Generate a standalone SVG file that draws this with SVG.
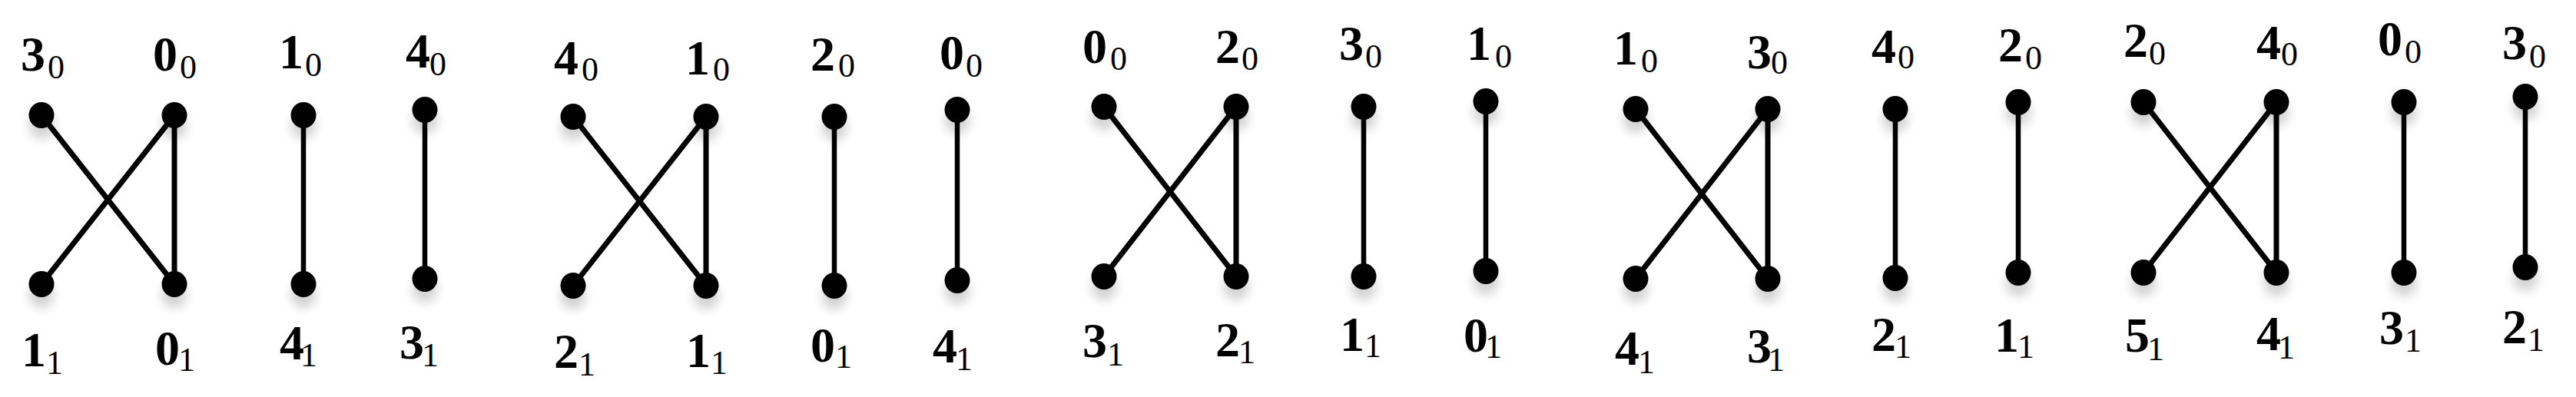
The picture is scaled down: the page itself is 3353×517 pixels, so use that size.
<svg xmlns="http://www.w3.org/2000/svg" width="3353" height="517" viewBox="0 0 3353 517">
<defs>
<filter id="sh" x="-150%" y="-100%" width="400%" height="400%">
<feGaussianBlur in="SourceAlpha" stdDeviation="7" result="b"/>
<feOffset in="b" dx="0" dy="14" result="o"/>
<feComponentTransfer in="o" result="f"><feFuncA type="linear" slope="0.18"/></feComponentTransfer>
<feMerge><feMergeNode in="f"/><feMergeNode in="SourceGraphic"/></feMerge>
</filter>
<style>
.dot{fill:#000;filter:url(#sh)}
.m{font-family:"Liberation Serif","Times New Roman",serif;font-weight:bold;font-size:64px;fill:#000}
.s{font-family:"Liberation Serif","Times New Roman",serif;font-weight:normal;font-size:44px;fill:#000}
.e{stroke:#000;stroke-width:7;stroke-linecap:round;fill:none}
.v{stroke-width:6.5}
</style>
</defs>
<rect width="3353" height="517" fill="#fff"/>
<g id="connectors">
<line class="e" x1="54" y1="150" x2="227" y2="370"/>
<line class="e" x1="227" y1="150" x2="54" y2="370"/>
<line class="e" x1="227" y1="150" x2="227" y2="370"/>
<line class="e v" x1="395" y1="150" x2="395" y2="370"/>
<line class="e v" x1="553" y1="143" x2="553" y2="363"/>
<line class="e" x1="746" y1="152" x2="919" y2="372"/>
<line class="e" x1="919" y1="152" x2="746" y2="372"/>
<line class="e" x1="919" y1="152" x2="919" y2="372"/>
<line class="e v" x1="1086" y1="152" x2="1086" y2="372"/>
<line class="e v" x1="1246" y1="143" x2="1246" y2="365"/>
<line class="e" x1="1437" y1="139" x2="1609" y2="360"/>
<line class="e" x1="1609" y1="139" x2="1437" y2="360"/>
<line class="e" x1="1609" y1="139" x2="1609" y2="360"/>
<line class="e v" x1="1775" y1="139" x2="1775" y2="360"/>
<line class="e v" x1="1934" y1="132" x2="1934" y2="353"/>
<line class="e" x1="2129" y1="142" x2="2301" y2="363"/>
<line class="e" x1="2301" y1="142" x2="2129" y2="363"/>
<line class="e" x1="2301" y1="142" x2="2301" y2="363"/>
<line class="e v" x1="2467" y1="142" x2="2467" y2="362"/>
<line class="e v" x1="2627" y1="133" x2="2627" y2="355"/>
<line class="e" x1="2790" y1="133" x2="2963" y2="355"/>
<line class="e" x1="2963" y1="133" x2="2790" y2="355"/>
<line class="e" x1="2963" y1="133" x2="2963" y2="355"/>
<line class="e v" x1="3129" y1="133" x2="3129" y2="355"/>
<line class="e v" x1="3287" y1="126" x2="3287" y2="348"/>
</g>

<g id="g1-3_0"><ellipse class="dot" cx="54" cy="150" rx="16.5" ry="17"/><text class="m" x="27" y="92">3</text><text class="s" x="62" y="102">0</text></g>
<g id="g1-0_0"><ellipse class="dot" cx="227" cy="150" rx="16.5" ry="17"/><text class="m" x="199" y="92">0</text><text class="s" x="234" y="102">0</text></g>
<g id="g1-1_0"><ellipse class="dot" cx="395" cy="150" rx="16.5" ry="17"/><text class="m" x="363" y="89">1</text><text class="s" x="397" y="99">0</text></g>
<g id="g1-4_0"><ellipse class="dot" cx="553" cy="143" rx="16.5" ry="17"/><text class="m" x="528" y="88">4</text><text class="s" x="559" y="98">0</text></g>
<g id="g1-1_1"><ellipse class="dot" cx="54" cy="370" rx="16.5" ry="17"/><text class="m" x="28" y="477">1</text><text class="s" x="60" y="487">1</text></g>
<g id="g1-0_1"><ellipse class="dot" cx="227" cy="370" rx="16.5" ry="17"/><text class="m" x="202" y="475">0</text><text class="s" x="232" y="483">1</text></g>
<g id="g1-4_1"><ellipse class="dot" cx="395" cy="370" rx="16.5" ry="17"/><text class="m" x="364" y="468">4</text><text class="s" x="391" y="477">1</text></g>
<g id="g1-3_1"><ellipse class="dot" cx="553" cy="363" rx="16.5" ry="17"/><text class="m" x="520" y="467">3</text><text class="s" x="549" y="477">1</text></g>

<g id="g2-4_0"><ellipse class="dot" cx="746" cy="152" rx="16.5" ry="17"/><text class="m" x="721" y="97">4</text><text class="s" x="757" y="105">0</text></g>
<g id="g2-1_0"><ellipse class="dot" cx="919" cy="152" rx="16.5" ry="17"/><text class="m" x="892" y="97">1</text><text class="s" x="928" y="105">0</text></g>
<g id="g2-2_0"><ellipse class="dot" cx="1086" cy="152" rx="16.5" ry="17"/><text class="m" x="1055" y="92">2</text><text class="s" x="1091" y="100">0</text></g>
<g id="g2-0_0"><ellipse class="dot" cx="1246" cy="143" rx="16.5" ry="17"/><text class="m" x="1223" y="90">0</text><text class="s" x="1257" y="100">0</text></g>
<g id="g2-2_1"><ellipse class="dot" cx="746" cy="372" rx="16.5" ry="17"/><text class="m" x="721" y="479">2</text><text class="s" x="753" y="489">1</text></g>
<g id="g2-1_1"><ellipse class="dot" cx="919" cy="372" rx="16.5" ry="17"/><text class="m" x="893" y="478">1</text><text class="s" x="925" y="487">1</text></g>
<g id="g2-0_1"><ellipse class="dot" cx="1086" cy="372" rx="16.5" ry="17"/><text class="m" x="1055" y="471">0</text><text class="s" x="1087" y="479">1</text></g>
<g id="g2-4_1"><ellipse class="dot" cx="1246" cy="365" rx="16.5" ry="17"/><text class="m" x="1214" y="472">4</text><text class="s" x="1244" y="482">1</text></g>

<g id="g3-0_0"><ellipse class="dot" cx="1437" cy="139" rx="16.5" ry="17"/><text class="m" x="1409" y="82">0</text><text class="s" x="1445" y="91">0</text></g>
<g id="g3-2_0"><ellipse class="dot" cx="1609" cy="139" rx="16.5" ry="17"/><text class="m" x="1582" y="82">2</text><text class="s" x="1616" y="91">0</text></g>
<g id="g3-3_0"><ellipse class="dot" cx="1775" cy="139" rx="16.5" ry="17"/><text class="m" x="1743" y="78">3</text><text class="s" x="1777" y="88">0</text></g>
<g id="g3-1_0"><ellipse class="dot" cx="1934" cy="132" rx="16.5" ry="17"/><text class="m" x="1909" y="78">1</text><text class="s" x="1946" y="88">0</text></g>
<g id="g3-3_1"><ellipse class="dot" cx="1437" cy="360" rx="16.5" ry="17"/><text class="m" x="1409" y="465">3</text><text class="s" x="1441" y="476">1</text></g>
<g id="g3-2_1"><ellipse class="dot" cx="1609" cy="360" rx="16.5" ry="17"/><text class="m" x="1582" y="464">2</text><text class="s" x="1612" y="473">1</text></g>
<g id="g3-1_1"><ellipse class="dot" cx="1775" cy="360" rx="16.5" ry="17"/><text class="m" x="1744" y="457">1</text><text class="s" x="1776" y="465">1</text></g>
<g id="g3-0_1"><ellipse class="dot" cx="1934" cy="353" rx="16.5" ry="17"/><text class="m" x="1905" y="458">0</text><text class="s" x="1933" y="466">1</text></g>

<g id="g4-1_0"><ellipse class="dot" cx="2129" cy="142" rx="16.5" ry="17"/><text class="m" x="2100" y="84">1</text><text class="s" x="2136" y="94">0</text></g>
<g id="g4-3_0"><ellipse class="dot" cx="2301" cy="142" rx="16.5" ry="17"/><text class="m" x="2274" y="89">3</text><text class="s" x="2305" y="96">0</text></g>
<g id="g4-4_0"><ellipse class="dot" cx="2467" cy="142" rx="16.5" ry="17"/><text class="m" x="2436" y="82">4</text><text class="s" x="2470" y="89">0</text></g>
<g id="g4-2_0"><ellipse class="dot" cx="2627" cy="133" rx="16.5" ry="17"/><text class="m" x="2601" y="80">2</text><text class="s" x="2636" y="90">0</text></g>
<g id="g4-4_1"><ellipse class="dot" cx="2129" cy="363" rx="16.5" ry="17"/><text class="m" x="2102" y="475">4</text><text class="s" x="2132" y="486">1</text></g>
<g id="g4-3_1"><ellipse class="dot" cx="2301" cy="363" rx="16.5" ry="17"/><text class="m" x="2274" y="472">3</text><text class="s" x="2301" y="483">1</text></g>
<g id="g4-2_1"><ellipse class="dot" cx="2467" cy="362" rx="16.5" ry="17"/><text class="m" x="2436" y="457">2</text><text class="s" x="2466" y="466">1</text></g>
<g id="g4-1_1"><ellipse class="dot" cx="2627" cy="355" rx="16.5" ry="17"/><text class="m" x="2596" y="458">1</text><text class="s" x="2626" y="466">1</text></g>

<g id="g5-2_0"><ellipse class="dot" cx="2790" cy="133" rx="16.5" ry="17"/><text class="m" x="2764" y="74">2</text><text class="s" x="2797" y="84">0</text></g>
<g id="g5-4_0"><ellipse class="dot" cx="2963" cy="133" rx="16.5" ry="17"/><text class="m" x="2937" y="77">4</text><text class="s" x="2969" y="85">0</text></g>
<g id="g5-0_0"><ellipse class="dot" cx="3129" cy="133" rx="16.5" ry="17"/><text class="m" x="3095" y="72">0</text><text class="s" x="3130" y="82">0</text></g>
<g id="g5-3_0"><ellipse class="dot" cx="3287" cy="126" rx="16.5" ry="17"/><text class="m" x="3257" y="77">3</text><text class="s" x="3292" y="88">0</text></g>
<g id="g5-5_1"><ellipse class="dot" cx="2790" cy="355" rx="16.5" ry="17"/><text class="m" x="2766" y="458">5</text><text class="s" x="2795" y="469">1</text></g>
<g id="g5-4_1"><ellipse class="dot" cx="2963" cy="355" rx="16.5" ry="17"/><text class="m" x="2937" y="456">4</text><text class="s" x="2965" y="467">1</text></g>
<g id="g5-3_1"><ellipse class="dot" cx="3129" cy="355" rx="16.5" ry="17"/><text class="m" x="3097" y="448">3</text><text class="s" x="3130" y="458">1</text></g>
<g id="g5-2_1"><ellipse class="dot" cx="3287" cy="348" rx="16.5" ry="17"/><text class="m" x="3257" y="447">2</text><text class="s" x="3290" y="457">1</text></g>
</svg>
